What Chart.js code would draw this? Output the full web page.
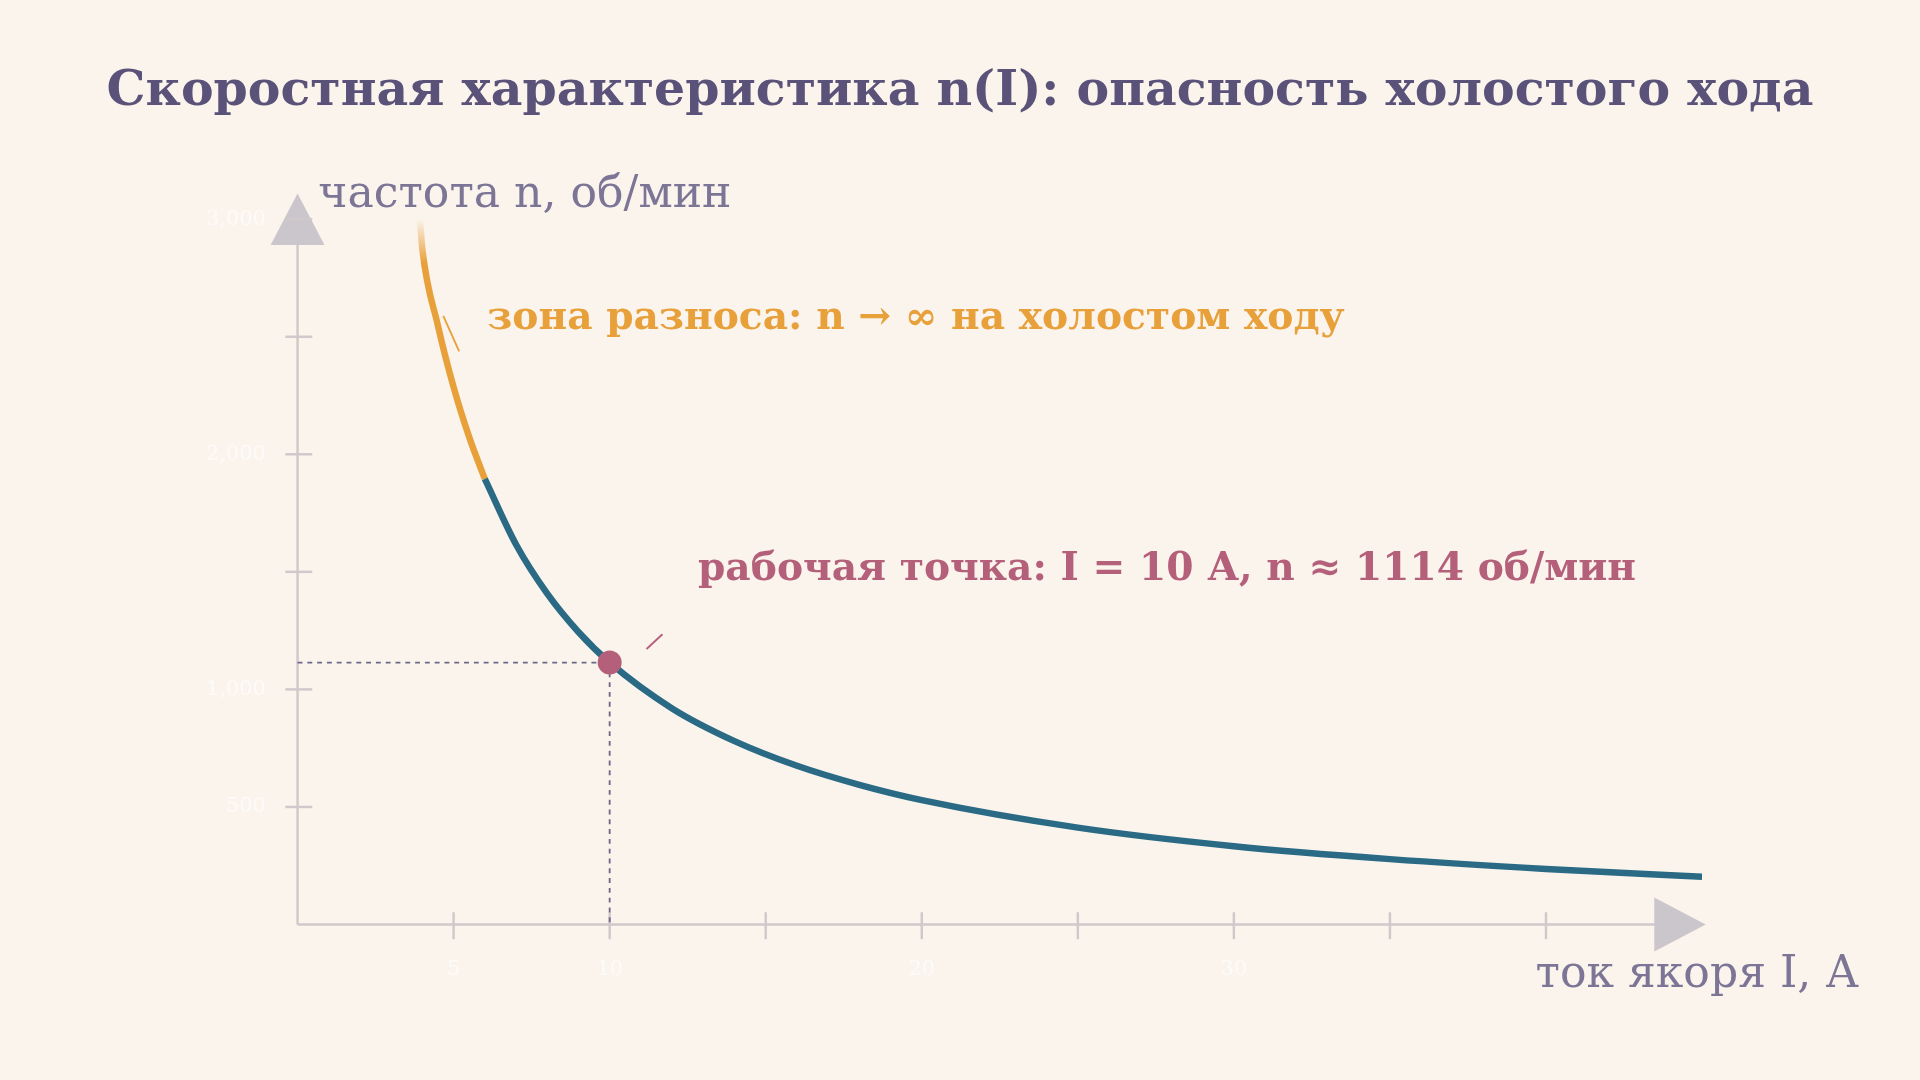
<!DOCTYPE html>
<html><head><meta charset="utf-8">
<script src="https://cdn.jsdelivr.net/npm/chart.js@4/dist/chart.umd.min.js"></script>
<style>
html,body{margin:0;padding:0;background:#faf4ed;overflow:hidden}
canvas{display:block}
</style></head><body>
<canvas id="c" width="1920" height="1080" style="width:1920px;height:1080px"></canvas>
<script>
const currentRunaway = [3.92,4,4.5,5,5.5,6];
const speedRunaway = [3000,2871,2546,2286,2073,1895];
const currentWork = [6,7,8,9,10,12,14,16,18,20,25,30,35,40,45];
const speedWork = [1895,1616,1407,1244,1114,919,780,675,594,529,412,333,278,236,203];
const opPoint = {I:10, n:1114};
const xTicks = [5,10,15,20,25,30,35,40];
const xLabels = {5:'5',10:'10',20:'20',30:'30'};
const yTicks = [500,1000,1500,2000,2500,3000];
const yLabels = {500:'500',1000:'1,000',2000:'2,000',3000:'3,000'};
const SERIF = '"DejaVu Serif", "Liberation Serif", serif';
const S = 1920/1568;

const deco = {
  id:'deco',
  beforeDatasetsDraw(ch){
    const c=ch.ctx,x=ch.scales.x,y=ch.scales.y;
    const X=v=>x.getPixelForValue(v)/S, Y=v=>y.getPixelForValue(v)/S;
    const x0=X(0),y0=Y(0);
    c.save();c.scale(S,S);
    c.fillStyle='#5a5278';c.textAlign='center';c.textBaseline='middle';
    c.font='bold 40px '+SERIF;
    c.fillText('Скоростная характеристика n(I): опасность холостого хода',784,75);
    c.strokeStyle='#cfc9cc';c.lineWidth=2;
    c.beginPath();c.moveTo(x0,y0);c.lineTo(x0,190);c.moveTo(x0,y0);c.lineTo(1360,y0);c.stroke();
    c.fillStyle='#cbc6cb';
    c.beginPath();c.moveTo(243,158);c.lineTo(265,200);c.lineTo(221,200);c.closePath();c.fill();
    c.beginPath();c.moveTo(1393,755);c.lineTo(1351,733);c.lineTo(1351,777);c.closePath();c.fill();
    c.font='17px '+SERIF;c.fillStyle='#fdfbf9';
    xTicks.forEach(t=>{const p=X(t);c.beginPath();c.moveTo(p,745);c.lineTo(p,767);c.stroke();
      if(xLabels[t]){c.textAlign='center';c.fillText(xLabels[t],p,792);}});
    yTicks.forEach(t=>{const p=Y(t);c.beginPath();c.moveTo(233,p);c.lineTo(255,p);c.stroke();
      if(yLabels[t]){c.textAlign='right';c.fillText(yLabels[t],217,p);}});
    c.fillStyle='#7d7596';c.font='36px '+SERIF;
    c.textAlign='left';c.fillText('частота n, об/мин',260,160);
    c.textAlign='right';c.fillText('ток якоря I, А',1518,797);
    const px=X(opPoint.I),py=Y(opPoint.n);
    c.setLineDash([4,4]);c.strokeStyle='#6e6888';c.lineWidth=1.5;
    c.beginPath();c.moveTo(x0,py);c.lineTo(px,py);c.moveTo(px,py);c.lineTo(px,y0);c.stroke();
    c.setLineDash([]);
    c.font='bold 32px '+SERIF;c.textAlign='left';
    c.fillStyle='#e8a03a';c.fillText('зона разноса: n → ∞ на холостом ходу',398,260);
    c.strokeStyle='#e8a03a';c.lineWidth=1.5;c.beginPath();c.moveTo(362,258);c.lineTo(375,287);c.stroke();
    c.fillStyle='#b5607a';c.fillText('рабочая точка: I = 10 А, n ≈ 1114 об/мин',570,465);
    c.strokeStyle='#b5607a';c.beginPath();c.moveTo(528,530);c.lineTo(541,518);c.stroke();
    c.restore();
  }
};
const toXY=(a,b)=>a.map((v,i)=>({x:v,y:b[i]}));
new Chart(document.getElementById('c'),{
  type:'scatter',
  data:{datasets:[
    {data:[{x:opPoint.I,y:opPoint.n}],pointRadius:12,pointBackgroundColor:'#b5607a',pointBorderWidth:0,order:0},
    {data:toXY(currentWork,speedWork),showLine:true,borderColor:'#2a6a85',borderWidth:6.5,pointRadius:0,cubicInterpolationMode:'monotone',order:1},
    {data:toXY(currentRunaway,speedRunaway),showLine:true,borderWidth:6.5,pointRadius:0,cubicInterpolationMode:'monotone',order:1,
     borderColor:(ctx)=>{const g=ctx.chart.ctx.createLinearGradient(0,179*S,0,215*S);g.addColorStop(0,'rgba(232,160,58,0)');g.addColorStop(1,'#e8a03a');return g;}}
  ]},
  options:{responsive:false,animation:false,devicePixelRatio:1,
    layout:{padding:{left:243*S,right:178*S,top:179*S,bottom:127*S}},
    plugins:{legend:{display:false},tooltip:{enabled:false}},
    scales:{x:{type:'linear',min:0,max:45,display:false},y:{min:0,max:3000,display:false}}},
  plugins:[deco]
});
</script></body></html>
